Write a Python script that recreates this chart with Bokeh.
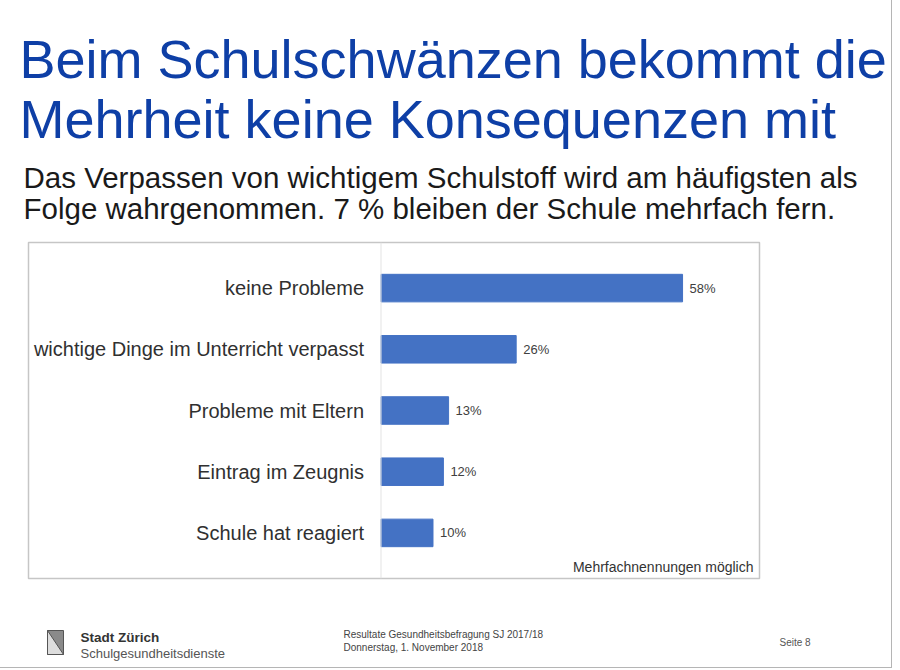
from bokeh.plotting import figure
from bokeh.layouts import column
from bokeh.models import FactorRange, Range1d, Label, Span, ColumnDataSource
from bokeh.core.properties import value
from bokeh.embed import file_html
from bokeh.resources import INLINE

# ---- data ----
categories = ["keine Probleme", "wichtige Dinge im Unterricht verpasst",
              "Probleme mit Eltern", "Eintrag im Zeugnis", "Schule hat reagiert"]
values = [58, 26, 13, 12, 10]
value_labels = [f"{v}%" for v in values]

title_lines = ["Beim Schulschwänzen bekommt die", "Mehrheit keine Konsequenzen mit"]
subtitle_lines = ["Das Verpassen von wichtigem Schulstoff wird am häufigsten als",
                  "Folge wahrgenommen. 7 % bleiben der Schule mehrfach fern."]
note = "Mehrfachnennungen möglich"
footer_org = ["Stadt Zürich", "Schulgesundheitsdienste"]
footer_mid = ["Resultate Gesundheitsbefragung SJ 2017/18", "Donnerstag, 1. November 2018"]
footer_page = "Seite 8"

FONT = "Liberation Sans"
BAR = "#4472C4"
TITLE_BLUE = "#0E3FA6"

W = 891
H_HEAD, H_CHART, H_FOOT = 236, 354, 77
FL, FT, FR, FB = 28, 242, 759, 578  # chart frame edges in page px


def panel(height):
    f = figure(width=W, height=height, output_backend="svg", toolbar_location=None,
               x_range=Range1d(0, W), y_range=Range1d(0, height),
               min_border=0, min_border_left=0, min_border_right=0,
               min_border_top=0, min_border_bottom=0, frame_align=False)
    f.axis.visible = False
    f.grid.visible = False
    f.outline_line_color = None
    f.border_fill_color = "white"
    return f


def lab(f, top, height, text, px, py, size, color="#222222", align="left", style="normal"):
    f.add_layout(Label(x=px, y=(top + height) - py, x_units="screen", y_units="screen",
                       text=text, text_font=FONT, text_font_size=size, text_color=color,
                       text_align=align, text_baseline="alphabetic",
                       text_font_style=style))


# ---- header ----
head = panel(H_HEAD)
lab(head, 0, H_HEAD, title_lines[0], 19, 58, "54px", TITLE_BLUE)
lab(head, 0, H_HEAD, title_lines[1], 19, 118, "54px", TITLE_BLUE)
lab(head, 0, H_HEAD, subtitle_lines[0], 23, 177, "29.5px", "#1a1a1a")
lab(head, 0, H_HEAD, subtitle_lines[1], 23, 208, "29.5px", "#1a1a1a")

# ---- chart ----
src = ColumnDataSource(dict(cat=categories, val=values, lab=value_labels))
top_c = H_HEAD
p = figure(width=W, height=H_CHART, output_backend="svg", toolbar_location=None,
           y_range=FactorRange(factors=categories[::-1], range_padding=0.245,
                               range_padding_units="absolute"),
           x_range=Range1d(-67.8, 72.8), frame_align=False,
           min_border_left=FL, min_border_right=W - FR,
           min_border_top=FT - top_c, min_border_bottom=(top_c + H_CHART) - FB)
p.xaxis.visible = False
p.yaxis.visible = False
p.grid.visible = False
p.outline_line_color = "#c6c6c6"
p.outline_line_width = 1.5
p.border_fill_color = "white"

p.add_layout(Span(location=0, dimension="height", line_color="#e3e3e3", line_width=1))

p.hbar(y="cat", right="val", left=0, height=0.45, source=src,
       fill_color=BAR, line_color=BAR)
p.text(x="val", y="cat", text="lab", source=src, x_offset=7,
       text_baseline="middle", text_align="left",
       text_font=value(FONT), text_font_size="13px", text_color="#404040")
p.text(x=0, y="cat", text="cat", source=src, x_offset=-17,
       text_baseline="middle", text_align="right",
       text_font=value(FONT), text_font_size="20px", text_color="#303030")
p.add_layout(Label(x=FR - FL - 6, y=FB - 566, x_units="screen", y_units="screen",
                   text=note, text_font=FONT, text_font_size="14px",
                   text_color="#333333", text_align="right", text_baseline="alphabetic"))

# ---- footer ----
top_f = H_HEAD + H_CHART
foot = panel(H_FOOT)
# simple crest stand-in
foot.quad(left=[47], right=[63], bottom=[top_f + H_FOOT - 654], top=[top_f + H_FOOT - 630],
          fill_color="#8a8a8a", line_color="#555555")
foot.patch(x=[47, 63, 47], y=[top_f + H_FOOT - 630, top_f + H_FOOT - 654, top_f + H_FOOT - 654],
           fill_color="#dddddd", line_color="#555555")
lab(foot, top_f, H_FOOT, footer_org[0], 80, 637, "13.5px", "#333333", style="bold")
lab(foot, top_f, H_FOOT, footer_org[1], 80, 653, "13px", "#555555")
lab(foot, top_f, H_FOOT, footer_mid[0], 343, 634, "10px", "#444444")
lab(foot, top_f, H_FOOT, footer_mid[1], 343, 647, "10px", "#444444")
lab(foot, top_f, H_FOOT, footer_page, 779, 642, "10px", "#555555")

layout = column(head, p, foot, spacing=0,
                styles={"border-right": "1px solid #b5b5b5",
                        "border-bottom": "1px solid #b5b5b5"})
open("out.html", "w").write(file_html(layout, INLINE))
